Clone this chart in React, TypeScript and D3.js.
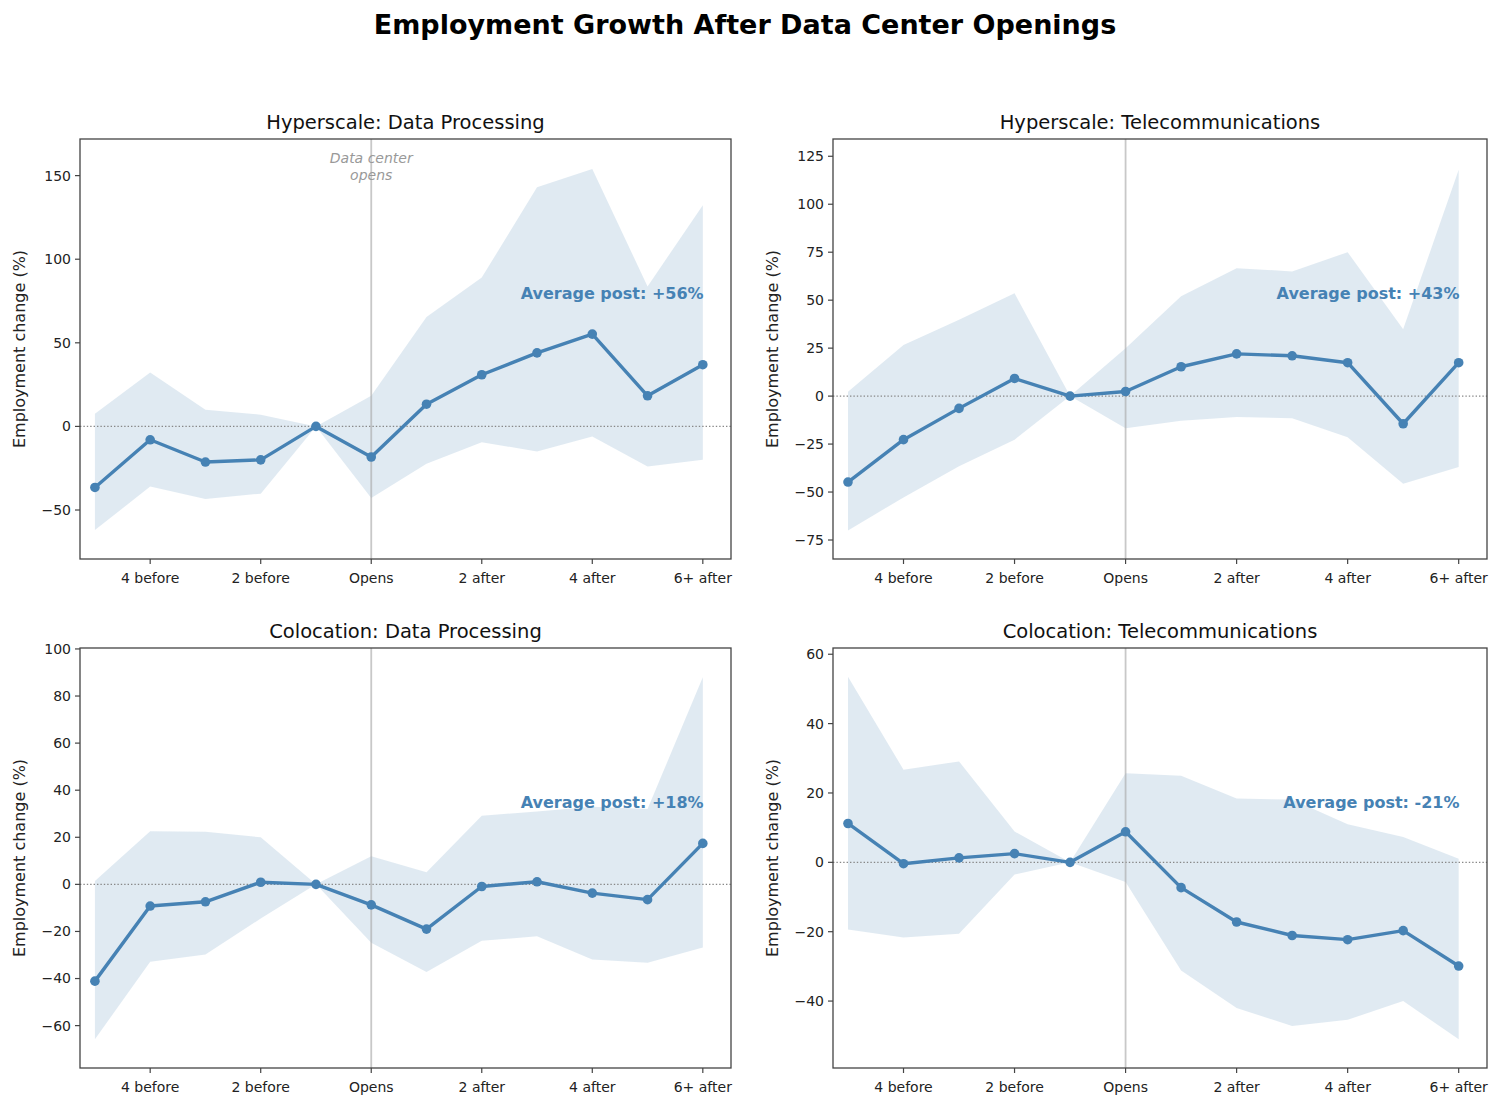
import React from "react";
import * as d3 from "d3";

const periods = [-5, -4, -3, -2, -1, 0, 1, 2, 3, 4, 5, 6];
const tickPositions = [-4, -2, 0, 2, 4, 6];
const tickLabels = ["4 before", "2 before", "Opens", "2 after", "4 after", "6+ after"];

// Hyperscale: Data Processing
const hdpMean = [-36.5, -8, -21.3, -20, 0, -18.3, 13.3, 30.9, 44, 55.2, 18.3, 36.9];
const hdpUpper = [7.6, 32.3, 10, 7, 0, 18.3, 65.5, 89, 143, 154, 83.7, 132.3];
const hdpLower = [-62, -36, -43.4, -40.2, 0, -42.8, -22.3, -9.4, -15, -6, -24, -20];

// Hyperscale: Telecommunications
const htMean = [-44.8, -22.7, -6.4, 9.2, 0, 2.4, 15.3, 22, 21, 17.4, -14.4, 17.4];
const htUpper = [2.3, 26.7, 39.8, 53.6, 0, 25, 52, 66.7, 65, 75, 34.9, 118];
const htLower = [-70, -52.8, -36.6, -22.7, 0, -16.7, -12.8, -10.9, -11.5, -21.4, -45.7, -37];

// Colocation: Data Processing
const cdpMean = [-41.1, -9.2, -7.4, 0.9, 0, -8.7, -19, -0.9, 1.1, -3.7, -6.5, 17.4];
const cdpUpper = [1.4, 22.6, 22.3, 20, 0, 11.9, 5.1, 29.1, 31, 33, 32, 88];
const cdpLower = [-65.8, -32.9, -29.8, -14.5, 0, -24.8, -37.2, -24, -22, -31.9, -33.3, -26.8];

// Colocation: Telecommunications
const ctMean = [11.2, -0.4, 1.3, 2.5, 0, 8.8, -7.3, -17.2, -21.1, -22.3, -19.7, -29.9];
const ctUpper = [53.5, 26.7, 29.1, 8.9, 0, 25.7, 25, 18.4, 18.1, 11, 7.3, 1];
const ctLower = [-19.4, -21.7, -20.6, -3.5, 0, -5.7, -31.2, -42, -47.2, -45.4, -40, -51];

const panelTitles = [
  "Hyperscale: Data Processing",
  "Hyperscale: Telecommunications",
  "Colocation: Data Processing",
  "Colocation: Telecommunications",
];
const avgLabels = ["Average post: +56%", "Average post: +43%", "Average post: +18%", "Average post: -21%"];
const yTicksList = [
  [-50, 0, 50, 100, 150],
  [-75, -50, -25, 0, 25, 50, 75, 100, 125],
  [-60, -40, -20, 0, 20, 40, 60, 80, 100],
  [-40, -20, 0, 20, 40, 60],
];
const yDomains: [number, number][] = [
  [-79.3, 171.9],
  [-84.9, 134],
  [-78, 100.4],
  [-59.3, 61.8],
];

const FONT = "'DejaVu Sans', sans-serif";
const BLUE = "#4682b4";

type PanelProps = {
  left: number;
  top: number;
  width: number;
  height: number;
  title: string;
  mean: number[];
  upper: number[];
  lower: number[];
  yDomain: [number, number];
  yTicks: number[];
  avg: string;
  showOpens: boolean;
};

function Panel(p: PanelProps) {
  const x = d3.scaleLinear().domain([-5.27, 6.51]).range([0, p.width]);
  const y = d3.scaleLinear().domain(p.yDomain).range([p.height, 0]);
  const rows = periods.map((t, i) => ({ t, m: p.mean[i], lo: p.lower[i], hi: p.upper[i] }));
  const area = d3
    .area<(typeof rows)[0]>()
    .x((d) => x(d.t))
    .y0((d) => y(d.lo))
    .y1((d) => y(d.hi));
  const line = d3
    .line<(typeof rows)[0]>()
    .x((d) => x(d.t))
    .y((d) => y(d.m));
  const fmt = (v: number) => (v < 0 ? "\u2212" + Math.abs(v) : String(v));
  return (
    <g transform={`translate(${p.left},${p.top})`}>
      <path d={area(rows) || ""} fill={BLUE} fillOpacity={0.17} stroke="none" />
      <line x1={0} x2={p.width} y1={y(0)} y2={y(0)} stroke="#888" strokeWidth={1.4} strokeDasharray="1.4,2" />
      <line x1={x(0)} x2={x(0)} y1={0} y2={p.height} stroke="#aaa" strokeOpacity={0.65} strokeWidth={1.8} />
      <path d={line(rows) || ""} fill="none" stroke={BLUE} strokeWidth={3.4} strokeLinejoin="round" />
      {rows.map((d, i) => (
        <circle key={i} cx={x(d.t)} cy={y(d.m)} r={4.8} fill={BLUE} />
      ))}
      {p.showOpens && (
        <text
          x={x(0)}
          textAnchor="middle"
          fontFamily={FONT}
          fontStyle="italic"
          fontSize={14}
          fill="#999"
        >
          <tspan x={x(0)} y={24}>Data center</tspan>
          <tspan x={x(0)} y={41}>opens</tspan>
        </text>
      )}
      <text
        x={p.width * 0.958}
        y={p.height * 0.37}
        textAnchor="end"
        dominantBaseline="middle"
        fontFamily={FONT}
        fontWeight="bold"
        fontSize={16}
        fill={BLUE}
      >
        {p.avg}
      </text>
      <rect x={0} y={0} width={p.width} height={p.height} fill="none" stroke="#444" strokeWidth={1.3} />
      {tickPositions.map((t, i) => (
        <g key={t} transform={`translate(${x(t)},${p.height})`}>
          <line y1={0} y2={5} stroke="#444" strokeWidth={1.2} />
          <text y={24} textAnchor="middle" fontFamily={FONT} fontSize={14} fill="#222">
            {tickLabels[i]}
          </text>
        </g>
      ))}
      {p.yTicks.map((v) => (
        <g key={v} transform={`translate(0,${y(v)})`}>
          <line x1={-5} x2={0} stroke="#444" strokeWidth={1.2} />
          <text x={-9} dy="0.35em" textAnchor="end" fontFamily={FONT} fontSize={14} fill="#222">
            {fmt(v)}
          </text>
        </g>
      ))}
      <text
        transform={`translate(${-60},${p.height / 2}) rotate(-90)`}
        textAnchor="middle"
        dominantBaseline="middle"
        fontFamily={FONT}
        fontSize={16}
        fill="#222"
      >
        Employment change (%)
      </text>
      <text
        x={p.width / 2}
        y={-10}
        textAnchor="middle"
        fontFamily={FONT}
        fontSize={19.5}
        fill="#111"
      >
        {p.title}
      </text>
    </g>
  );
}

export default function App() {
  const W = 1500;
  const H = 1108;
  const lefts = [80, 833, 80, 833];
  const tops = [139, 139, 648, 648];
  const means = [hdpMean, htMean, cdpMean, ctMean];
  const uppers = [hdpUpper, htUpper, cdpUpper, ctUpper];
  const lowers = [hdpLower, htLower, cdpLower, ctLower];
  return (
    <div style={{ position: "absolute", left: 0, top: 0 }}>
      <svg width={W} height={H} style={{ display: "block", background: "#fff" }}>
        <text
          x={745}
          y={34}
          textAnchor="middle"
          fontFamily={FONT}
          fontWeight="bold"
          fontSize={27}
          fill="#000"
        >
          Employment Growth After Data Center Openings
        </text>
        {panelTitles.map((t, i) => (
          <Panel
            key={t}
            left={lefts[i]}
            top={tops[i]}
            width={i % 2 === 0 ? 651 : 654}
            height={420}
            title={t}
            mean={means[i]}
            upper={uppers[i]}
            lower={lowers[i]}
            yDomain={yDomains[i]}
            yTicks={yTicksList[i]}
            avg={avgLabels[i]}
            showOpens={i === 0}
          />
        ))}
      </svg>
    </div>
  );
}
